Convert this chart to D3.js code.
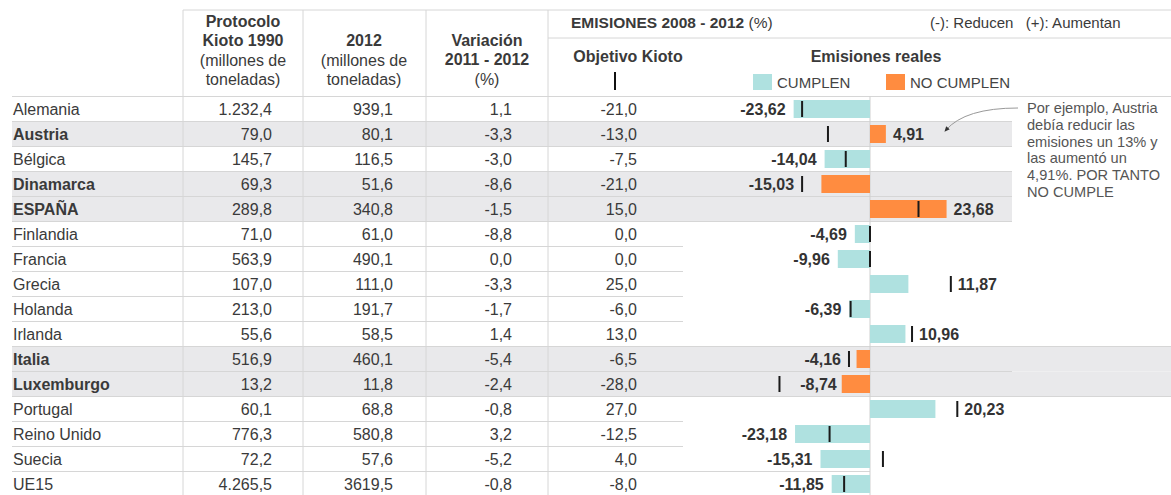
<!DOCTYPE html>
<html>
<head>
<meta charset="utf-8">
<script src="https://cdn.jsdelivr.net/npm/d3@7"></script>
<style>
  body { margin: 0; background: #fff; }
  svg { display: block; font-family: "Liberation Sans", Arial, sans-serif; }
</style>
</head>
<body>
<div id="vis"></div>
<script>
// data
const countries = ["Alemania", "Austria", "Bélgica", "Dinamarca", "ESPAÑA", "Finlandia", "Francia", "Grecia",
  "Holanda", "Irlanda", "Italia", "Luxemburgo", "Portugal", "Reino Unido", "Suecia", "UE15"];
const kioto1990 = ["1.232,4", "79,0", "145,7", "69,3", "289,8", "71,0", "563,9", "107,0",
  "213,0", "55,6", "516,9", "13,2", "60,1", "776,3", "72,2", "4.265,5"];
const emis2012 = ["939,1", "80,1", "116,5", "51,6", "340,8", "61,0", "490,1", "111,0",
  "191,7", "58,5", "460,1", "11,8", "68,8", "580,8", "57,6", "3619,5"];
const variacion = [1.1, -3.3, -3.0, -8.6, -1.5, -8.8, 0.0, -3.3, -1.7, 1.4, -5.4, -2.4, -0.8, 3.2, -5.2, -0.8];
const objetivo = [-21, -13, -7.5, -21, 15, 0, 0, 25, -6, 13, -6.5, -28, 27, -12.5, 4, -8];
const reales = [-23.62, 4.91, -14.04, -15.03, 23.68, -4.69, -9.96, 11.87, -6.39, 10.96, -4.16, -8.74, 20.23, -23.18, -15.31, -11.85];
const annotation = ["Por ejemplo, Austria", "debía reducir las", "emisiones un 13% y",
  "las aumentó un", "4,91%. POR TANTO", "NO CUMPLE"];

const width = 1171, height = 495;
const teal = "#afe1e0", orange = "#ff8c40", band = "#e9e9eb", grid = "#d6d6d6", ink = "#3a3a3a";

const locale = d3.formatLocale({ decimal: ",", thousands: ".", grouping: [3], currency: ["", "€"], minus: "-" });
const f1 = locale.format(".1f"), f2 = locale.format(".2f");

const rows = countries.map((c, i) => ({
  name: c, k: kioto1990[i], e: emis2012[i], v: variacion[i], obj: objetivo[i], real: reales[i],
  ok: reales[i] <= objetivo[i]
}));

let svg = d3.select('#vis').append('svg')
  .attr('width', width).attr('height', height);

const topY = 96.5;
const y = d3.scaleBand().domain(countries).range([topY, topY + 25 * countries.length]);
const x = d3.scaleLinear().domain([-30, 30]).range([870 - 97, 870 + 97]);

// gray bands for rows that do not comply
svg.selectAll('rect.band')
  .data(rows.filter(d => !d.ok))
  .enter().append('rect')
  .attr('x', 12)
  .attr('y', d => y(d.name))
  .attr('width', d => (d.name === "Italia" || d.name === "Luxemburgo") ? width - 12 : 1012 - 12)
  .attr('height', y.bandwidth())
  .attr('fill', band);

// row separators
svg.selectAll('line.row')
  .data(rows.slice(1))
  .enter().append('line')
  .attr('x1', 12)
  .attr('x2', (d, i) => {
    const prev = rows[i];
    if (d.name === "UE15") return x(0);
    if (!d.ok || !prev.ok) return (d.name === "Italia" || prev.name === "Luxemburgo") ? width : 1012;
    return 683;
  })
  .attr('y1', d => y(d.name)).attr('y2', d => y(d.name))
  .attr('stroke', grid).attr('stroke-width', 1);

// header lines
svg.append('line').attr('x1', 183).attr('x2', width).attr('y1', 10).attr('y2', 10).attr('stroke', grid);
svg.append('line').attr('x1', 548).attr('x2', width).attr('y1', 38).attr('y2', 38).attr('stroke', grid);
svg.append('line').attr('x1', 12).attr('x2', width).attr('y1', topY).attr('y2', topY).attr('stroke', grid);
[183, 303, 426, 548].forEach(cx => {
  svg.append('line').attr('x1', cx).attr('x2', cx).attr('y1', 10).attr('y2', height).attr('stroke', grid);
});

// zero line
svg.append('line').attr('x1', x(0)).attr('x2', x(0)).attr('y1', topY).attr('y2', height)
  .attr('stroke', '#cfcfcf');

// column headers
const head = svg.append('g').attr('fill', ink).style('font-size', '16px').attr('text-anchor', 'middle');
function hline(cx, cy, txt, bold) {
  head.append('text').attr('x', cx).attr('y', cy).attr('font-weight', bold ? 'bold' : 'normal').text(txt);
}
hline(243, 27, "Protocolo", true);
hline(243, 46, "Kioto 1990", true);
hline(243, 66, "(millones de", false);
hline(243, 85, "toneladas)", false);
hline(364, 46, "2012", true);
hline(364, 66, "(millones de", false);
hline(364, 85, "toneladas)", false);
hline(487, 46, "Variación", true);
hline(487, 65, "2011 - 2012", true);
hline(487, 85, "(%)", false);

const em = svg.append('text').attr('x', 571).attr('y', 28).attr('fill', ink).style('font-size', '15.5px');
em.append('tspan').attr('font-weight', 'bold').text("EMISIONES 2008 - 2012 ");
em.append('tspan').text("(%)");
svg.append('text').attr('x', 930).attr('y', 28).attr('fill', ink).style('font-size', '15px')
  .attr('xml:space', 'preserve').text("(-): Reducen   (+): Aumentan");

svg.append('text').attr('x', 628).attr('y', 62).attr('text-anchor', 'middle').attr('font-weight', 'bold')
  .attr('fill', ink).style('font-size', '16px').text("Objetivo Kioto");
svg.append('rect').attr('x', 614).attr('y', 72).attr('width', 2).attr('height', 18).attr('fill', '#111');
svg.append('text').attr('x', 876).attr('y', 62).attr('text-anchor', 'middle').attr('font-weight', 'bold')
  .attr('fill', ink).style('font-size', '16px').text("Emisiones reales");

// legend
const legend = [{ label: "CUMPLEN", color: teal, x: 753 }, { label: "NO CUMPLEN", color: orange, x: 886 }];
legend.forEach(l => {
  svg.append('rect').attr('x', l.x).attr('y', 74).attr('width', 19).attr('height', 16).attr('fill', l.color);
  svg.append('text').attr('x', l.x + 24).attr('y', 88).attr('fill', '#444').style('font-size', '15px').text(l.label);
});

// table body
const body = svg.append('g').style('font-size', '16px').attr('fill', ink);
const base = d => y(d.name) + 18;
body.selectAll('text.name').data(rows).enter().append('text')
  .attr('x', 13).attr('y', base)
  .attr('font-weight', d => d.ok ? 'normal' : 'bold')
  .text(d => d.name);
body.selectAll('text.k').data(rows).enter().append('text')
  .attr('x', 272).attr('y', base).attr('text-anchor', 'end').text(d => d.k);
body.selectAll('text.e').data(rows).enter().append('text')
  .attr('x', 393).attr('y', base).attr('text-anchor', 'end').text(d => d.e);
body.selectAll('text.v').data(rows).enter().append('text')
  .attr('x', 512).attr('y', base).attr('text-anchor', 'end').text(d => f1(d.v));
body.selectAll('text.o').data(rows).enter().append('text')
  .attr('x', 637).attr('y', base).attr('text-anchor', 'end').text(d => f1(d.obj));

// bars
svg.selectAll('rect.bar').data(rows).enter().append('rect')
  .attr('x', d => x(Math.min(0, d.real)))
  .attr('y', d => y(d.name) + 3.5)
  .attr('width', d => Math.abs(x(d.real) - x(0)))
  .attr('height', 18)
  .attr('fill', d => d.ok ? teal : orange);

// kyoto target markers
svg.selectAll('rect.mark').data(rows).enter().append('rect')
  .attr('x', d => x(d.obj) - 1)
  .attr('y', d => y(d.name) + 4.5)
  .attr('width', 2)
  .attr('height', 16)
  .attr('fill', '#1a1a1a');

// value labels
svg.selectAll('text.val').data(rows).enter().append('text')
  .attr('y', base)
  .attr('font-weight', 'bold')
  .attr('fill', '#333')
  .style('font-size', '16px')
  .attr('text-anchor', d => d.real < 0 ? 'end' : 'start')
  .attr('x', d => {
    const bx = x(d.real), mx = x(d.obj);
    if (d.real < 0) {
      if (mx < bx - 50) return bx - 5;
      return Math.min(bx, mx) - 8;
    }
    return Math.max(bx, mx) + 7;
  })
  .text(d => f2(d.real));

// annotation
const note = svg.append('text').attr('fill', '#555').style('font-size', '14.6px');
annotation.forEach((t, i) => {
  note.append('tspan').attr('x', 1027).attr('y', 113 + i * 16.8).text(t);
});
svg.append('defs').append('marker')
  .attr('id', 'arrow').attr('viewBox', '0 0 10 10').attr('refX', 5).attr('refY', 5)
  .attr('markerWidth', 6).attr('markerHeight', 6).attr('orient', 'auto')
  .append('path').attr('d', 'M0,1 L9,5 L0,9 Z').attr('fill', '#333');
svg.append('path')
  .attr('d', 'M1018,108 Q965,108 946,130')
  .attr('fill', 'none').attr('stroke', '#999').attr('stroke-width', 1)
  .attr('marker-end', 'url(#arrow)');
</script>
</body>
</html>
